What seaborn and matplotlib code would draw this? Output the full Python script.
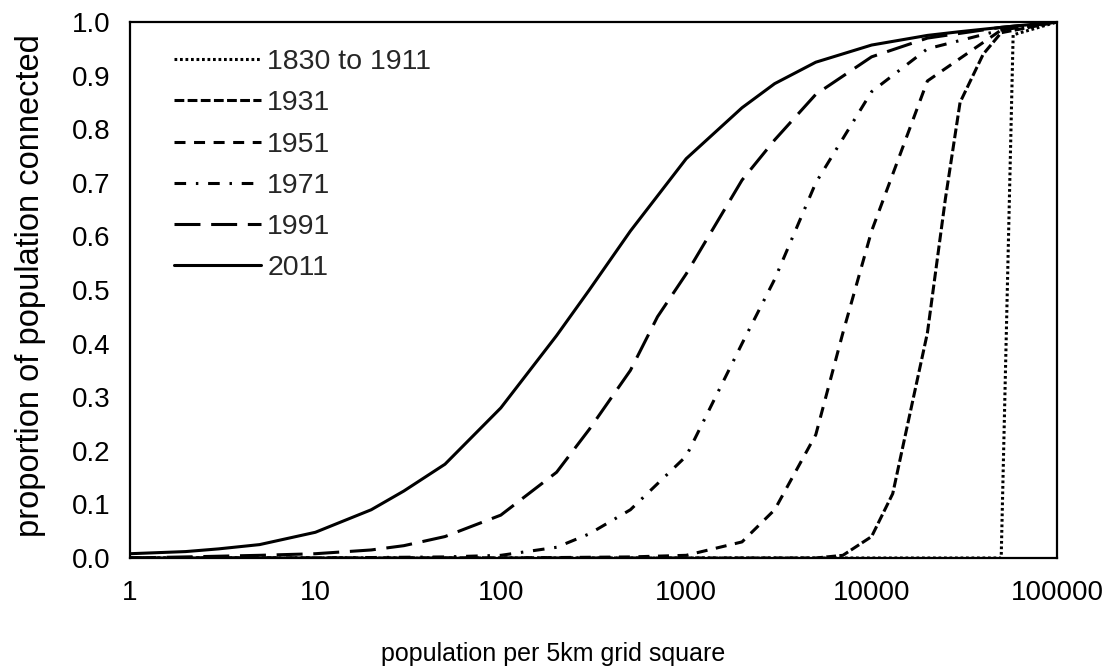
import matplotlib
matplotlib.use("Agg")
import matplotlib.pyplot as plt
import seaborn as sns
import pandas as pd

# ---- data ----
x_2011 = [1, 2, 3, 5, 10, 20, 30, 50, 100, 200, 300, 500, 1000, 2000, 3000, 5000, 10000, 20000, 30000, 50000, 100000]
y_2011 = [0.008, 0.012, 0.017, 0.025, 0.048, 0.09, 0.125, 0.175, 0.28, 0.415, 0.5, 0.61, 0.745, 0.84, 0.885, 0.925, 0.957, 0.975, 0.982, 0.99, 1.0]

x_1991 = [1, 2, 5, 10, 20, 30, 50, 100, 200, 300, 500, 700, 1000, 2000, 3000, 5000, 10000, 20000, 50000, 100000]
y_1991 = [0.0, 0.002, 0.005, 0.008, 0.015, 0.023, 0.04, 0.08, 0.16, 0.24, 0.35, 0.45, 0.53, 0.705, 0.78, 0.865, 0.935, 0.97, 0.99, 1.0]

x_1971 = [1, 10, 50, 100, 200, 300, 500, 1000, 2000, 3000, 5000, 10000, 20000, 50000, 100000]
y_1971 = [0.0, 0.0, 0.002, 0.005, 0.02, 0.045, 0.09, 0.19, 0.40, 0.52, 0.70, 0.87, 0.95, 0.985, 1.0]

x_1951 = [1, 10, 100, 500, 1000, 2000, 3000, 5000, 7000, 10000, 20000, 50000, 100000]
y_1951 = [0.0, 0.0, 0.0, 0.002, 0.005, 0.03, 0.09, 0.23, 0.42, 0.61, 0.89, 0.985, 1.0]

x_1931 = [1, 10, 100, 1000, 5000, 7000, 10000, 13000, 15000, 20000, 25000, 30000, 40000, 50000, 100000]
y_1931 = [0.0, 0.0, 0.0, 0.0, 0.0, 0.005, 0.04, 0.12, 0.22, 0.42, 0.67, 0.85, 0.94, 0.98, 1.0]

x_1911 = [1, 10, 100, 1000, 10000, 50000, 58000, 100000]
y_1911 = [0.0, 0.0, 0.0, 0.0, 0.0, 0.0, 0.976, 1.0]

series_names = ["1830 to 1911", "1931", "1951", "1971", "1991", "2011"]
x_values = [x_1911, x_1931, x_1951, x_1971, x_1991, x_2011]
y_values = [y_1911, y_1931, y_1951, y_1971, y_1991, y_2011]

x_ticks = [1, 10, 100, 1000, 10000, 100000]
x_tick_labels = ["1", "10", "100", "1000", "10000", "100000"]
y_ticks = [0.0, 0.1, 0.2, 0.3, 0.4, 0.5, 0.6, 0.7, 0.8, 0.9, 1.0]

frames = []
for name, xs, ys in zip(series_names, x_values, y_values):
    frames.append(pd.DataFrame({"pop": xs, "prop": ys, "series": name}))
df = pd.concat(frames, ignore_index=True)

dash_map = {
    "1830 to 1911": (0.9, 0.9),
    "1931": (3.2, 1.1),
    "1951": (3.6, 2.8),
    "1971": (3.8, 3.2, 0.8, 3.2),
    "1991": (8.5, 3.5),
    "2011": "",
}

sns.set_style("white")
plt.rcParams["font.family"] = ["Liberation Sans", "DejaVu Sans"]

fig = plt.figure(figsize=(11.06, 6.72), dpi=100)
ax = fig.add_axes([130 / 1106, 1 - 558 / 672, (1057 - 130) / 1106, (558 - 22) / 672])

sns.lineplot(data=df, x="pop", y="prop", style="series", style_order=series_names,
             dashes=dash_map, color="black", linewidth=2.2, estimator=None,
             sort=True, ax=ax, legend=True)

ax.set_xscale("log")
ax.set_xlim(1, 100000)
ax.set_ylim(0, 1.0)
ax.set_xticks(x_ticks)
ax.set_xticklabels(x_tick_labels)
ax.minorticks_off()
ax.set_yticks(y_ticks)
ax.set_yticklabels([f"{v:.1f}" for v in y_ticks])
ax.tick_params(axis="both", length=0, labelsize=20, colors="black")
ax.tick_params(axis="x", pad=16)
ax.tick_params(axis="y", pad=14)

for s in ax.spines.values():
    s.set_visible(True)
    s.set_color("black")
    s.set_linewidth(1.6)

ax.set_xlabel("population per 5km grid square", fontsize=18, color="black")
ax.xaxis.set_label_coords(0.456, -0.157)
ax.set_ylabel("proportion of population connected", fontsize=23.5, color="black")
ax.yaxis.set_label_coords(-0.0906, 0.509)

handles, labels = ax.get_legend_handles_labels()
ax.legend(handles, labels, loc="upper left", frameon=False, fontsize=20.5,
          handlelength=3.05, handletextpad=0.21, labelspacing=0.53,
          borderpad=0, borderaxespad=0,
          bbox_to_anchor=(0.048, 0.949))

fig.savefig("out.png", dpi=100)
